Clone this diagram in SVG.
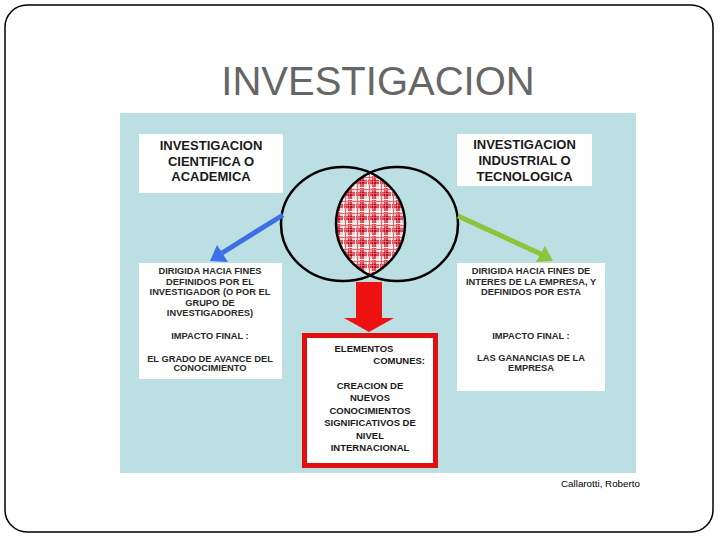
<svg xmlns="http://www.w3.org/2000/svg" width="720" height="540" viewBox="0 0 720 540">
<style>
.box{fill:#ffffff}
.hd{font-family:"Liberation Sans",Arial,sans-serif;font-weight:bold;font-size:13px;fill:#1a1a1a;text-anchor:middle}
.sm{font-family:"Liberation Sans",Arial,sans-serif;font-weight:bold;font-size:9.3px;fill:#2a2a2a;text-anchor:middle}
.rd{font-family:"Liberation Sans",Arial,sans-serif;font-weight:bold;font-size:9.5px;fill:#1a1a1a;text-anchor:middle}
.circ{fill:none;stroke:#000;stroke-width:2.5}
</style>
<defs>
<pattern id="tartan" width="12" height="12" patternUnits="userSpaceOnUse">
<rect width="12" height="12" fill="#f7cdd0"/>
<rect x="0" y="0" width="4" height="12" fill="#dc4a55"/>
<rect x="0" y="0" width="12" height="4" fill="#dc4a55"/>
<rect x="0" y="0" width="4" height="4" fill="#b3111f"/>
<rect x="7" y="0" width="1" height="12" fill="#ffffff"/>
<rect x="0" y="7" width="12" height="1" fill="#ffffff"/>
<rect x="9" y="0" width="1" height="12" fill="#e36a73"/>
<rect x="0" y="9" width="12" height="1" fill="#e36a73"/>
<rect x="1" y="0" width="1" height="12" fill="#f08a92" opacity="0.6"/>
<rect x="0" y="1" width="12" height="1" fill="#f08a92" opacity="0.6"/>
</pattern>
</defs>
<rect x="0" y="0" width="720" height="540" fill="#ffffff"/>
<rect x="5" y="5" width="708" height="527" rx="22" ry="22" fill="none" stroke="#000" stroke-width="1.5"/>
<text x="378" y="95" font-family="'Liberation Sans',Arial,sans-serif" font-size="40" fill="#666666" text-anchor="middle">INVESTIGACION</text>
<rect x="120" y="113" width="516" height="360" fill="#bbdfe3"/>

<g id="venn">
<path d="M370,172.7 A62,57 0 0 1 370,275.3 A61,57 0 0 1 370,172.7 Z" fill="url(#tartan)"/>
<ellipse class="circ" cx="343" cy="224" rx="62" ry="57"/>
<ellipse class="circ" cx="397" cy="224" rx="61" ry="57"/>
</g>

<g id="connectors">
<line x1="283" y1="215" x2="222" y2="253" stroke="#3f6fe6" stroke-width="5"/>
<polygon points="210,261 217,245 228,262" fill="#3f6fe6"/>
<line x1="458" y1="216" x2="541" y2="254" stroke="#8cc43c" stroke-width="5"/>
<polygon points="553,261 536,262 545,246" fill="#8cc43c"/>
<polygon points="356,282 382,282 382,318 394,318 369,332 344,318 356,318" fill="#ee1111"/>
</g>

<g id="n-cientifica">
<rect class="box" x="139" y="134" width="144" height="59"/>
<text class="hd" x="211" y="150">INVESTIGACION</text>
<text class="hd" x="211" y="165.5">CIENTIFICA O</text>
<text class="hd" x="211" y="181">ACADEMICA</text>
</g>

<g id="n-industrial">
<rect class="box" x="457" y="134" width="135" height="52"/>
<text class="hd" x="524.5" y="149">INVESTIGACION</text>
<text class="hd" x="524.5" y="165">INDUSTRIAL O</text>
<text class="hd" x="524.5" y="181">TECNOLOGICA</text>
</g>

<g id="n-left-detail">
<rect class="box" x="139" y="263" width="143" height="116"/>
<text class="sm" x="210" y="274">DIRIGIDA HACIA FINES</text>
<text class="sm" x="210" y="284.5">DEFINIDOS POR EL</text>
<text class="sm" x="210" y="295">INVESTIGADOR (O POR EL</text>
<text class="sm" x="210" y="305.5">GRUPO DE</text>
<text class="sm" x="210" y="316">INVESTIGADORES)</text>
<text class="sm" x="210" y="339">IMPACTO FINAL :</text>
<text class="sm" x="210" y="361.5">EL GRADO DE AVANCE DEL</text>
<text class="sm" x="210" y="371">CONOCIMIENTO</text>
</g>

<g id="n-right-detail">
<rect class="box" x="457" y="263" width="148" height="128"/>
<text class="sm" x="531" y="274">DIRIGIDA HACIA FINES DE</text>
<text class="sm" x="531" y="284.5">INTERES DE LA EMPRESA, Y</text>
<text class="sm" x="531" y="295">DEFINIDOS POR ESTA</text>
<text class="sm" x="531" y="339">IMPACTO FINAL :</text>
<text class="sm" x="531" y="360.5">LAS GANANCIAS DE LA</text>
<text class="sm" x="531" y="370.5">EMPRESA</text>
</g>

<g id="n-comunes">
<rect x="304.5" y="335.5" width="131" height="130" fill="#ffffff" stroke="#e01010" stroke-width="5"/>
<text class="rd" x="364" y="352">ELEMENTOS</text>
<text class="rd" x="425" y="364" style="text-anchor:end">COMUNES:</text>
<text class="rd" x="370" y="388.5">CREACION DE</text>
<text class="rd" x="370" y="401">NUEVOS</text>
<text class="rd" x="370" y="413.5">CONOCIMIENTOS</text>
<text class="rd" x="370" y="426">SIGNIFICATIVOS DE</text>
<text class="rd" x="370" y="438.5">NIVEL</text>
<text class="rd" x="370" y="451">INTERNACIONAL</text>
</g>

<text x="561" y="487" font-family="'Liberation Sans',Arial,sans-serif" font-size="9.8" fill="#000">Callarotti, Roberto</text>
</svg>
